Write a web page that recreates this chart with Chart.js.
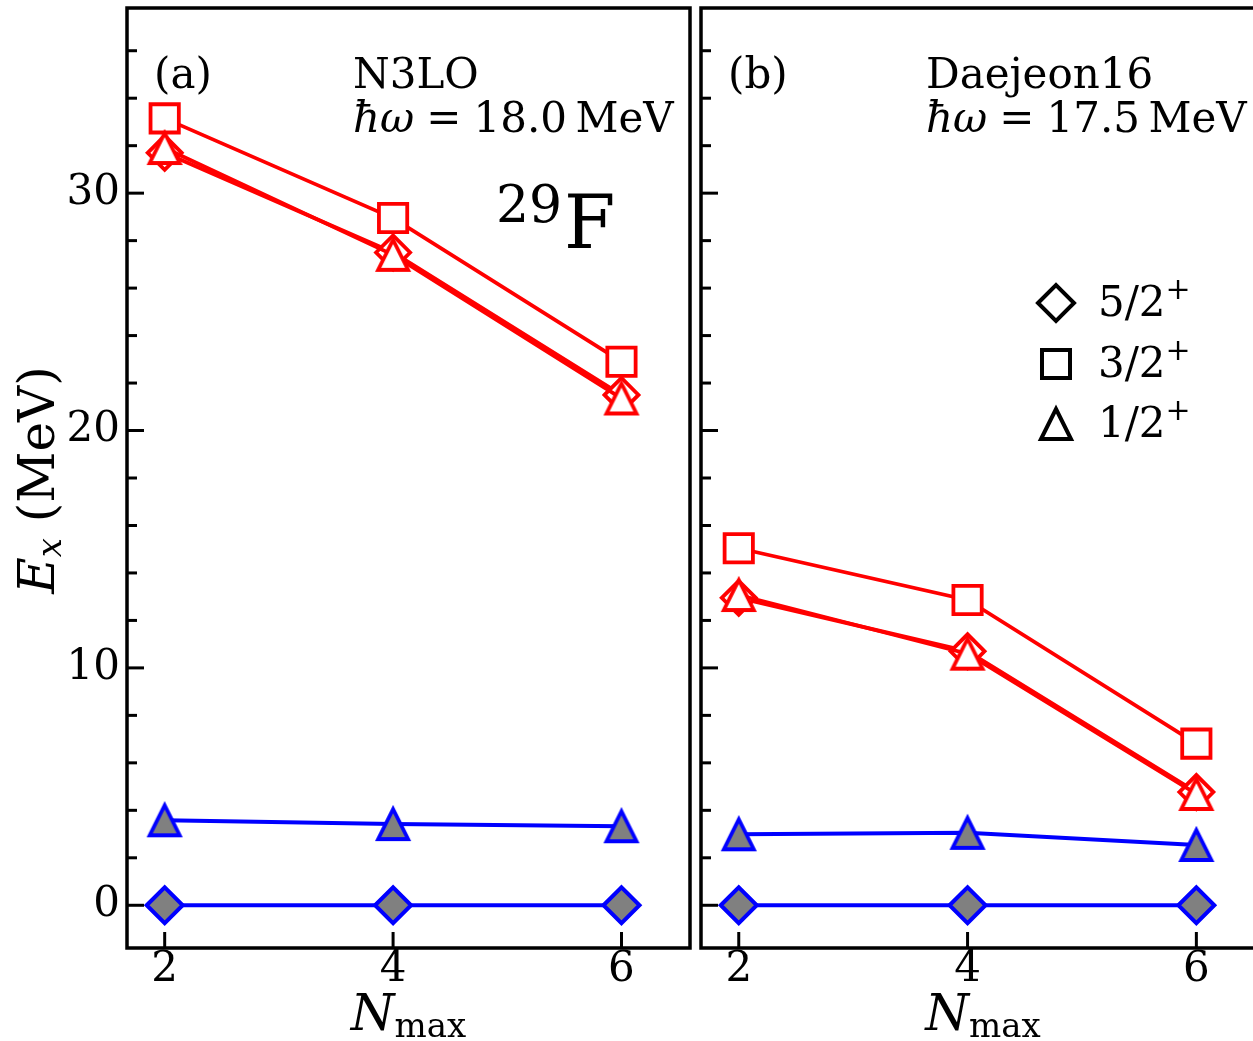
<!DOCTYPE html>
<html><head><meta charset="utf-8">
<script src="https://cdn.jsdelivr.net/npm/chart.js@4/dist/chart.umd.min.js"></script>
<style>
html,body{margin:0;padding:0;background:#fff;overflow:hidden;width:1253px;height:1041px;}
#wrap{position:relative;width:1253px;height:1041px;overflow:hidden;background:#fff;}
canvas{position:absolute;top:0;}
.t{position:absolute;font-family:'DejaVu Serif',serif;line-height:1;white-space:nowrap;color:#000;}
.i{font-style:italic;}
.ctr{text-align:center;}
</style></head><body>
<div id="wrap">
<canvas id="ca" width="697" height="1041" style="left:0;width:697px;height:1041px"></canvas>
<canvas id="cb" width="600" height="1041" style="left:697px;width:600px;height:1041px"></canvas>

<div class="t" style="left:154px;top:52.5px;font-size:42px">(a)</div>
<div class="t" style="left:353px;top:52.5px;font-size:42px">N3LO</div>
<div class="t" style="left:353px;top:96.5px;font-size:42px"><span class="i">ħω</span><span style="margin:0 12px">=</span>18.0&#8201;MeV</div>
<div class="t" style="left:496px;top:178px;font-size:52px">29</div>
<div class="t" style="left:564px;top:185.4px;font-size:74px">F</div>

<div class="t" style="left:728px;top:52.5px;font-size:42px">(b)</div>
<div class="t" style="left:926px;top:52.5px;font-size:42px">Daejeon16</div>
<div class="t" style="left:926px;top:96.5px;font-size:42px"><span class="i">ħω</span><span style="margin:0 12px">=</span>17.5&#8201;MeV</div>

<div class="t" style="left:1098px;top:280.5px;font-size:42px">5/2<span style="position:relative;top:-17px;font-size:30px">+</span></div>
<div class="t" style="left:1098px;top:341.5px;font-size:42px">3/2<span style="position:relative;top:-17px;font-size:30px">+</span></div>
<div class="t" style="left:1098px;top:401.5px;font-size:42px">1/2<span style="position:relative;top:-17px;font-size:30px">+</span></div>

<div class="t ctr" style="left:258.5px;top:987.7px;width:300px;font-size:50px"><span class="i">N</span><span style="position:relative;top:7px;font-size:34px">max</span></div>
<div class="t ctr" style="left:833px;top:987.7px;width:300px;font-size:50px"><span class="i">N</span><span style="position:relative;top:7px;font-size:34px">max</span></div>

<div class="t ctr" style="left:-263.3px;top:455px;width:600px;height:50px;font-size:50px;transform:rotate(-90deg);transform-origin:300px 25px"><span class="i">E</span><span class="i" style="position:relative;top:7px;font-size:34px">x</span> (MeV)</div>
</div>
<script>
// ---------- data ----------
const nmax = [2, 4, 6];
const xTickValues = [2, 4, 6];
const yTickValues = [0, 2, 4, 6, 8, 10, 12, 14, 16, 18, 20, 22, 24, 26, 28, 30, 32, 34, 36];
const yLabelValues = [0, 10, 20, 30];

// Panel (a): N3LO, hbar*omega = 18.0 MeV
const n3lo_52_red = [31.7, 27.5, 21.5];
const n3lo_32_red = [33.15, 28.95, 22.9];
const n3lo_12_red = [31.9, 27.4, 21.35];
const n3lo_52_blue = [0, 0, 0];
const n3lo_12_blue = [3.58, 3.42, 3.33];

// Panel (b): Daejeon16, hbar*omega = 17.5 MeV
const d16_52_red = [12.95, 10.7, 4.77];
const d16_32_red = [15.04, 12.86, 6.81];
const d16_12_red = [13.07, 10.6, 4.69];
const d16_52_blue = [0, 0, 0];
const d16_12_blue = [2.99, 3.05, 2.54];

// ---------- styling ----------
const RED = '#ff0000', BLUE = '#0000ff', GRAY = '#808080';
const X_MIN = 1.67, X_MAX = 6.6, Y_MIN = -1.8, Y_MAX = 37.8;
const FONT = {family: "'DejaVu Serif', serif", size: 42};

function triMarker(stroke, fill, s, lw) {
  const pad = Math.ceil(lw * 2 + 2);
  const size = 2 * (s + pad);
  const c = document.createElement('canvas');
  c.width = size; c.height = size;
  const g = c.getContext('2d');
  const cx = size / 2, cy = size / 2;
  g.beginPath();
  g.moveTo(cx, cy - s); g.lineTo(cx + s, cy + s); g.lineTo(cx - s, cy + s); g.closePath();
  g.fillStyle = fill; g.fill();
  g.lineWidth = lw; g.strokeStyle = stroke; g.lineJoin = 'miter'; g.stroke();
  return c;
}
const triRed = triMarker(RED, '#fff', 15, 3.8);
const triBlue = triMarker(BLUE, GRAY, 15, 3.8);
const triBlack = triMarker('#000', '#fff', 15, 4);

function pts(vals) { return nmax.map((n, i) => ({x: n, y: vals[i]})); }
function ds(vals, color, style, radius, fill, lw, order) {
  return {
    data: pts(vals), borderColor: color, borderWidth: lw, pointStyle: style,
    pointRadius: radius, pointBorderColor: color, pointBackgroundColor: fill,
    pointBorderWidth: lw, fill: false, tension: 0, order: order
  };
}
function datasets(r52, r32, r12, b52, b12) {
  return [
    ds(r12, RED, triRed, 15, '#fff', 3.8, 0),
    ds(r52, RED, 'rectRot', 17, '#fff', 3.8, 1),
    ds(r32, RED, 'rect', 20, '#fff', 3.8, 2),
    ds(b12, BLUE, triBlue, 15, GRAY, 4, 3),
    ds(b52, BLUE, 'rectRot', 18, GRAY, 4, 4)
  ];
}

const frameTicks = {
  id: 'frameTicks',
  afterDraw(chart) {
    const {ctx, chartArea: a} = chart;
    const xs = chart.scales.x, ys = chart.scales.y;
    ctx.save();
    ctx.strokeStyle = '#000';
    ctx.lineWidth = 3;
    yTickValues.forEach(v => {
      const py = ys.getPixelForValue(v);
      const len = yLabelValues.includes(v) ? 17 : 10;
      ctx.beginPath(); ctx.moveTo(a.left, py); ctx.lineTo(a.left + len, py); ctx.stroke();
    });
    xTickValues.forEach(v => {
      const px = xs.getPixelForValue(v);
      ctx.beginPath(); ctx.moveTo(px, a.bottom); ctx.lineTo(px, a.bottom - 16); ctx.stroke();
    });
    ctx.lineWidth = 3.5;
    ctx.strokeRect(a.left, a.top, a.right - a.left, a.bottom - a.top);
    ctx.restore();
  }
};

const shapeLegend = {
  id: 'shapeLegend',
  afterDraw(chart) {
    const ctx = chart.ctx;
    const mx = 1056 - 697;
    const items = [
      {pointStyle: 'rectRot', radius: 18, y: 303},
      {pointStyle: 'rect', radius: 19.8, y: 364},
      {pointStyle: triBlack, radius: 15, y: 424}
    ];
    ctx.save();
    ctx.strokeStyle = '#000'; ctx.fillStyle = '#fff'; ctx.lineWidth = 4;
    items.forEach(it => {
      Chart.helpers.drawPoint(ctx, {pointStyle: it.pointStyle, radius: it.radius, rotation: 0, borderWidth: 4}, mx, it.y);
    });
    ctx.restore();
  }
};

function makeChart(id, dsets, yAxisWidth, padRight, showYLabels, extraPlugins) {
  return new Chart(document.getElementById(id), {
    type: 'line',
    data: {datasets: dsets},
    options: {
      responsive: false, animation: false, events: [],
      layout: {padding: {left: 0, top: 8, right: padRight, bottom: 0}, autoPadding: false},
      plugins: {legend: {display: false}, tooltip: {enabled: false}},
      scales: {
        x: {
          type: 'linear', min: X_MIN, max: X_MAX,
          afterBuildTicks: s => { s.ticks = xTickValues.map(v => ({value: v})); },
          afterFit: s => { s.height = 1041 - 948; s.paddingLeft = 0; s.paddingRight = 0; },
          grid: {display: false, drawTicks: false}, border: {display: false},
          ticks: {font: FONT, color: '#000', padding: -3, maxRotation: 0, autoSkip: false}
        },
        y: {
          type: 'linear', min: Y_MIN, max: Y_MAX,
          afterBuildTicks: s => { s.ticks = yTickValues.map(v => ({value: v})); },
          afterFit: s => { s.width = yAxisWidth; s.paddingTop = 0; s.paddingBottom = 0; },
          grid: {display: false, drawTicks: false}, border: {display: false},
          ticks: {display: showYLabels, font: FONT, color: '#000', padding: 7, autoSkip: false,
                  callback: v => yLabelValues.includes(v) ? String(v) : null}
        }
      }
    },
    plugins: [frameTicks].concat(extraPlugins)
  });
}

makeChart('ca', datasets(n3lo_52_red, n3lo_32_red, n3lo_12_red, n3lo_52_blue, n3lo_12_blue), 127, 7, true, []);
makeChart('cb', datasets(d16_52_red, d16_32_red, d16_12_red, d16_52_blue, d16_12_blue), 4, 32, false, [shapeLegend]);
</script>
</body></html>
